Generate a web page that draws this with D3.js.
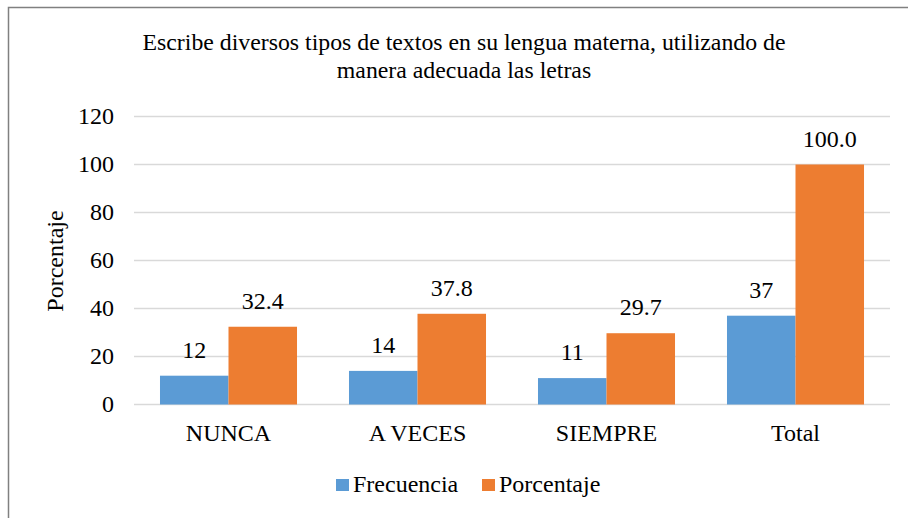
<!DOCTYPE html>
<html>
<head>
<meta charset="utf-8">
<script src="https://cdn.jsdelivr.net/npm/d3@7"></script>
<style>
  body { margin: 0; background: #fff; }
</style>
</head>
<body>
<div id="chart"></div>
<script>
const categories = ['NUNCA', 'A VECES', 'SIEMPRE', 'Total'];
const seriesNames = ['Frecuencia', 'Porcentaje'];
const frecuencia = [12, 14, 11, 37];
const porcentaje = [32.4, 37.8, 29.7, 100.0];
const yTicks = [0, 20, 40, 60, 80, 100, 120];
const titleLines = ['Escribe diversos tipos de textos en su lengua materna, utilizando de', 'manera adecuada las letras'];

const width = 908;
const height = 518;
const margin = { top: 116.5, bottom: 113, left: 134, right: 18 };
const colors = ['#5B9BD5', '#ED7D31'];
const font = "'Liberation Serif', 'DejaVu Serif', serif";
const fs = '24px';

const data = categories.map((c, i) => ({ cat: c, values: [frecuencia[i], porcentaje[i]] }));

const svg = d3.select('#chart')
  .append('svg')
  .attr('width', width)
  .attr('height', height)
  .attr('font-family', font)
  .style('font-family', font);

// outer chart border (cut off on the right and bottom)
svg.append('rect')
  .attr('x', 8.5).attr('y', 7.5)
  .attr('width', 1000).attr('height', 600)
  .attr('fill', 'none')
  .attr('stroke', '#808080')
  .attr('stroke-width', 1.5);

const x = d3.scaleBand()
  .domain(categories)
  .range([margin.left, width - margin.right])
  .paddingInner(0.275)
  .paddingOuter(0.1375);

const xs = d3.scaleBand()
  .domain(seriesNames)
  .range([0, x.bandwidth()]);

const y = d3.scaleLinear()
  .domain([0, 120])
  .range([height - margin.bottom - 0.5, margin.top]);

// gridlines
svg.append('g')
  .selectAll('line')
  .data(yTicks)
  .join('line')
  .attr('x1', margin.left)
  .attr('x2', width - margin.right)
  .attr('y1', d => y(d))
  .attr('y2', d => y(d))
  .attr('stroke', '#D9D9D9')
  .attr('stroke-width', 1.5);

// y tick labels
svg.append('g')
  .selectAll('text')
  .data(yTicks)
  .join('text')
  .attr('x', 114)
  .attr('y', d => y(d))
  .attr('dy', '0.33em')
  .attr('text-anchor', 'end')
  .attr('font-size', fs)
  .text(d => d);

// bars
const groups = svg.append('g')
  .selectAll('g')
  .data(data)
  .join('g')
  .attr('transform', d => `translate(${x(d.cat)},0)`);

groups.selectAll('rect')
  .data(d => d.values.map((v, j) => ({ key: seriesNames[j], v, j })))
  .join('rect')
  .attr('x', d => xs(d.key))
  .attr('y', d => y(d.v))
  .attr('width', xs.bandwidth())
  .attr('height', d => y(0) - y(d.v))
  .attr('fill', d => colors[d.j]);

groups.selectAll('text')
  .data(d => d.values.map((v, j) => ({ key: seriesNames[j], v, j })))
  .join('text')
  .attr('x', d => xs(d.key) + xs.bandwidth() / 2)
  .attr('y', d => y(d.v) - 18)
  .attr('text-anchor', 'middle')
  .attr('font-size', fs)
  .text(d => d.j === 1 ? d.v.toFixed(1) : d.v);

// x category labels
svg.append('g')
  .selectAll('text')
  .data(categories)
  .join('text')
  .attr('x', d => x(d) + x.bandwidth() / 2)
  .attr('y', 441)
  .attr('text-anchor', 'middle')
  .attr('font-size', fs)
  .text(d => d);

// y axis title
svg.append('text')
  .attr('transform', `translate(63,261) rotate(-90)`)
  .attr('text-anchor', 'middle')
  .attr('font-size', fs)
  .text('Porcentaje');

// title
svg.append('g')
  .selectAll('text')
  .data(titleLines)
  .join('text')
  .attr('x', 464)
  .attr('y', (d, i) => 50 + i * 28)
  .attr('text-anchor', 'middle')
  .attr('font-size', '23.8px')
  .text(d => d);

// legend
const legend = svg.append('g')
  .selectAll('g')
  .data(seriesNames)
  .join('g')
  .attr('transform', (d, i) => `translate(${i === 0 ? 336 : 482},479)`);

legend.append('rect')
  .attr('width', 13).attr('height', 12)
  .attr('fill', (d, i) => colors[i]);

legend.append('text')
  .attr('x', 17)
  .attr('y', 13)
  .attr('font-size', fs)
  .text(d => d);
</script>
</body>
</html>
